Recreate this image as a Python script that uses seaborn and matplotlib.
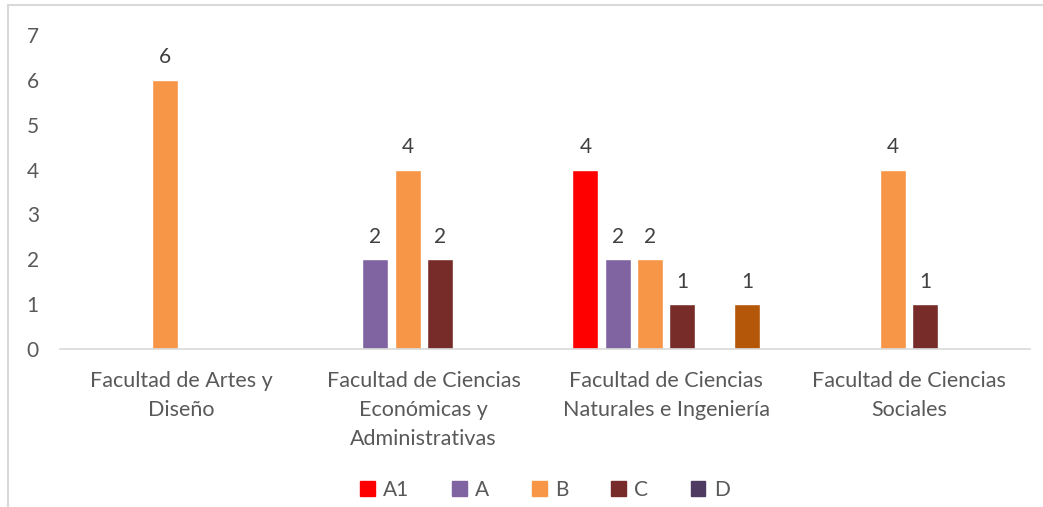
import matplotlib
matplotlib.use("Agg")
from matplotlib import pyplot as plt
from matplotlib.lines import Line2D
from matplotlib.patches import Patch
import pandas as pd
import seaborn as sns

# datos
facultades = ["Facultad de Artes y\nDiseño",
              "Facultad de Ciencias\nEconómicas y\nAdministrativas",
              "Facultad de Ciencias\nNaturales e Ingeniería",
              "Facultad de Ciencias\nSociales"]
categorias = ["A1", "A", "B", "C", "D", "Otro"]
val_a1 = [0, 0, 4, 0]
val_a = [0, 2, 2, 0]
val_b = [6, 4, 2, 4]
val_c = [0, 2, 1, 1]
val_d = [0, 0, 0, 0]
val_otro = [0, 0, 1, 0]
colores = ["#FF0000", "#8064A2", "#F79646", "#772C2A", "#4F3B62", "#B45708"]

series = [val_a1, val_a, val_b, val_c, val_d, val_otro]
rows = []
for cat, vals in zip(categorias, series):
    for fac, v in zip(facultades, vals):
        rows.append({"facultad": fac, "categoria": cat, "valor": v})
df = pd.DataFrame(rows)

sns.set_style("white")
plt.rcParams['font.family'] = ['Lato', 'DejaVu Sans']
txt = "#595959"

fig = plt.figure(figsize=(10.43, 5.07), dpi=100)
ax = fig.add_axes([60 / 1043, 1 - 349 / 507, 970 / 1043, 314 / 507])

sns.barplot(data=df, x="facultad", y="valor", hue="categoria",
            hue_order=categorias, order=facultades, palette=colores,
            width=0.8, gap=0.2, saturation=1, legend=False, ax=ax)

for cont in ax.containers:
    labels = ["{:d}".format(int(b.get_height())) if b.get_height() > 0 else ""
              for b in cont]
    ax.bar_label(cont, labels=labels, padding=9, fontsize=15, color="#404040")

ax.set_ylim(0, 7)
ax.set_yticks(range(0, 8))
ax.set_xlabel("")
ax.set_ylabel("")
ax.tick_params(axis="y", length=0, pad=24, labelsize=15, labelcolor=txt)
ax.tick_params(axis="x", length=0, pad=16, labelsize=15.5, labelcolor=txt)
for lab in ax.get_yticklabels():
    lab.set_horizontalalignment("left")
for lab in ax.get_xticklabels():
    lab.set_linespacing(1.55)
for s in ["top", "right", "left"]:
    ax.spines[s].set_visible(False)
ax.spines["bottom"].set_color("#D9D9D9")
ax.spines["bottom"].set_linewidth(1.2)

handles = [Patch(color=c, label=l) for c, l in zip(colores[:5], categorias[:5])]
fig.legend(handles=handles, loc="center", bbox_to_anchor=(545 / 1043, 1 - 490 / 507),
           ncol=5, frameon=False, fontsize=15, handlelength=0.7, handleheight=0.7,
           handletextpad=0.4, columnspacing=2.05, labelcolor=txt)

# borde del area del grafico
fig.add_artist(Line2D([8 / 1043, 8 / 1043], [0, 1 - 5 / 507], color="#D9D9D9", lw=1.5))
fig.add_artist(Line2D([8 / 1043, 1], [1 - 5 / 507, 1 - 5 / 507], color="#D9D9D9", lw=1.5))

fig.savefig("out.png", dpi=100)
